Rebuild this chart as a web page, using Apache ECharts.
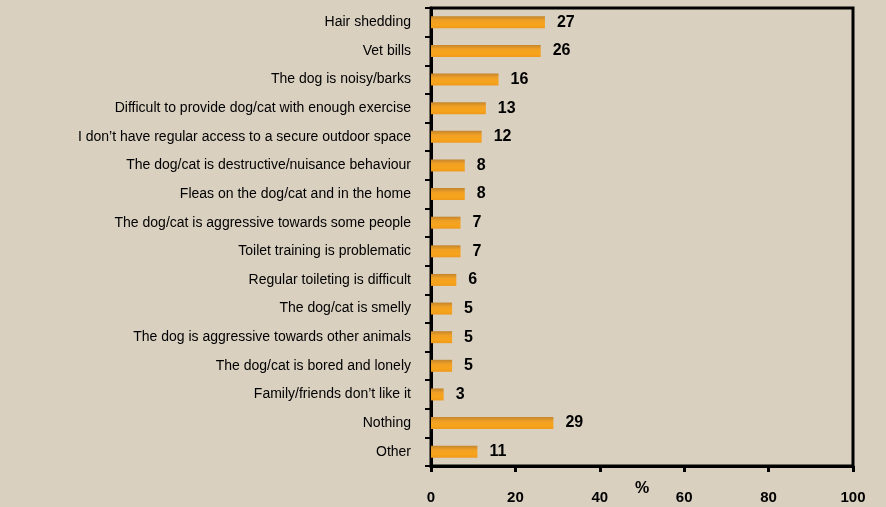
<!DOCTYPE html>
<html>
<head>
<meta charset="utf-8">
<script src="https://cdn.jsdelivr.net/npm/echarts@6/dist/echarts.min.js"></script>
<style>
  html, body { margin: 0; padding: 0; background: #d9d0c0; }
  #main { width: 886px; height: 507px; }
</style>
</head>
<body>
<div id="main"></div>
<script>
// categories top to bottom
var categories = [
  'Hair shedding',
  'Vet bills',
  'The dog is noisy/barks',
  'Difficult to provide dog/cat with enough exercise',
  'I don\u2019t have regular access to a secure outdoor space',
  'The dog/cat is destructive/nuisance behaviour',
  'Fleas on the dog/cat and in the home',
  'The dog/cat is aggressive towards some people',
  'Toilet training is problematic',
  'Regular toileting is difficult',
  'The dog/cat is smelly',
  'The dog is aggressive towards other animals',
  'The dog/cat is bored and lonely',
  'Family/friends don\u2019t like it',
  'Nothing',
  'Other'
];
var values = [27, 26, 16, 13, 12, 8, 8, 7, 7, 6, 5, 5, 5, 3, 29, 11];
var xTicks = [0, 20, 40, 60, 80, 100];

var myChart = echarts.init(document.getElementById('main'));

var barColor = new echarts.graphic.LinearGradient(0, 0, 0, 1, [
  { offset: 0, color: '#c4852c' },
  { offset: 0.35, color: '#f0a024' },
  { offset: 0.7, color: '#f7a41c' },
  { offset: 1, color: '#ee9a1c' }
]);

var option = {
  backgroundColor: '#d9d0c0',
  animation: false,
  grid: {
    left: 431, right: 33, top: 8, bottom: 41,
    outerBoundsMode: 'none',
    containLabel: false,
    show: true,
    borderColor: '#000',
    borderWidth: 3,
    backgroundColor: 'transparent'
  },
  xAxis: {
    type: 'value',
    min: xTicks[0],
    max: xTicks[xTicks.length - 1],
    interval: 20,
    name: '%',
    nameLocation: 'middle',
    nameGap: 15,
    nameMoveOverlap: false,
    nameTextStyle: { color: '#000', fontSize: 16, fontWeight: 'bold', fontFamily: 'Liberation Sans' },
    axisLine: { show: true, lineStyle: { color: '#000', width: 3 } },
    axisTick: { show: true, length: 6, lineStyle: { color: '#000', width: 3 } },
    axisLabel: { color: '#000', fontSize: 15, fontWeight: 'bold', fontFamily: 'Liberation Sans', margin: 24 },
    splitLine: { show: false }
  },
  yAxis: {
    type: 'category',
    inverse: true,
    data: categories,
    axisLine: { show: true, lineStyle: { color: '#000', width: 3 } },
    axisTick: { show: true, length: 6, lineStyle: { color: '#000', width: 2 } },
    axisLabel: { color: '#000', fontSize: 14, fontFamily: 'Liberation Sans', margin: 20 }
  },
  series: [{
    type: 'bar',
    data: values,
    barWidth: 12,
    itemStyle: { color: barColor },
    label: {
      show: true,
      position: 'right',
      distance: 12,
      color: '#000',
      fontSize: 16,
      fontWeight: 'bold',
      fontFamily: 'Liberation Sans'
    }
  }]
};

myChart.setOption(option);
</script>
</body>
</html>
